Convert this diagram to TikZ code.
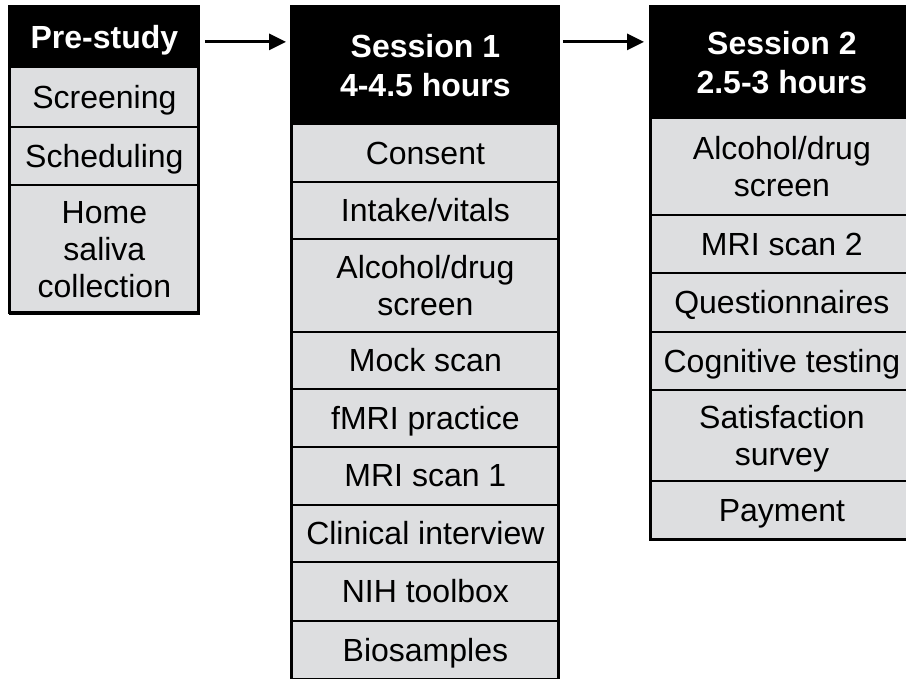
\documentclass[tikz,border=0pt]{standalone}
\usepackage{fontspec}
\setmainfont{Liberation Sans}
\usetikzlibrary{arrows.meta}
\definecolor{cellgray}{RGB}{221,222,224}
\begin{document}
\begin{tikzpicture}[x=1pt,y=-1pt,
  cell/.style={draw=black, line width=1.8pt, fill=cellgray, anchor=north west,
    inner sep=0pt, align=center, text depth=0pt, font=\fontsize{32}{37}\selectfont},
  head/.style={cell, fill=black, text=white, font=\fontsize{32}{39}\selectfont\bfseries},
  frame/.style={draw=black, line width=3pt},
  arr/.style={line width=3pt, -{Triangle[length=17pt,width=16pt]}}]
\clip (0,0) rectangle (906,679);
\fill[white] (0,0) rectangle (906,679);
% Pre-study
\node[head, minimum width=189, minimum height=59] (pre) at (9,7) {Pre-study};
\node[cell, minimum width=189, minimum height=60] (p1) at (9,66) {Screening};
\node[cell, minimum width=189, minimum height=58] (p2) at (9,126) {Scheduling};
\node[cell, minimum width=189, minimum height=129] (p3) at (9,184) {Home\\saliva\\collection};
\draw[frame] (9,7) rectangle (198,313);
% Session 1
\node[head, minimum width=267, minimum height=116] (s1) at (291,7) {Session 1\\4-4.5 hours};
\node[cell, minimum width=267, minimum height=58] (a1) at (291,123) {Consent};
\node[cell, minimum width=267, minimum height=57] (a2) at (291,181) {Intake/vitals};
\node[cell, minimum width=267, minimum height=93] (a3) at (291,238) {Alcohol/drug\\screen};
\node[cell, minimum width=267, minimum height=57] (a4) at (291,331) {Mock scan};
\node[cell, minimum width=267, minimum height=58] (a5) at (291,388) {fMRI practice};
\node[cell, minimum width=267, minimum height=58] (a6) at (291,446) {MRI scan 1};
\node[cell, minimum width=267, minimum height=57] (a7) at (291,504) {Clinical interview};
\node[cell, minimum width=267, minimum height=59] (a8) at (291,561) {NIH toolbox};
\node[cell, minimum width=267, minimum height=58] (a9) at (291,620) {Biosamples};
\draw[frame] (291,7) rectangle (558,700);
% Session 2
\node[head, minimum width=262, minimum height=110] (s2) at (650,7) {Session 2\\2.5-3 hours};
\node[cell, minimum width=262, minimum height=97] (b1) at (650,117) {Alcohol/drug\\screen};
\node[cell, minimum width=262, minimum height=58] (b2) at (650,214) {MRI scan 2};
\node[cell, minimum width=262, minimum height=59] (b3) at (650,272) {Questionnaires};
\node[cell, minimum width=262, minimum height=58] (b4) at (650,331) {Cognitive testing};
\node[cell, minimum width=262, minimum height=91] (b5) at (650,389) {Satisfaction\\survey};
\node[cell, minimum width=262, minimum height=59] (b6) at (650,480) {Payment};
\draw[frame] (650,7) rectangle (912,539);
% arrows
\draw[arr, shorten <=5pt, shorten >=5pt] ([yshift=-4.5pt]pre.east) -- ([yshift=-4.5pt]pre.east -| s1.west);
\draw[arr, shorten <=3pt, shorten >=6pt] ([yshift=-4.5pt]pre.east -| s1.east) -- ([yshift=-4.5pt]pre.east -| s2.west);
\end{tikzpicture}
\end{document}
